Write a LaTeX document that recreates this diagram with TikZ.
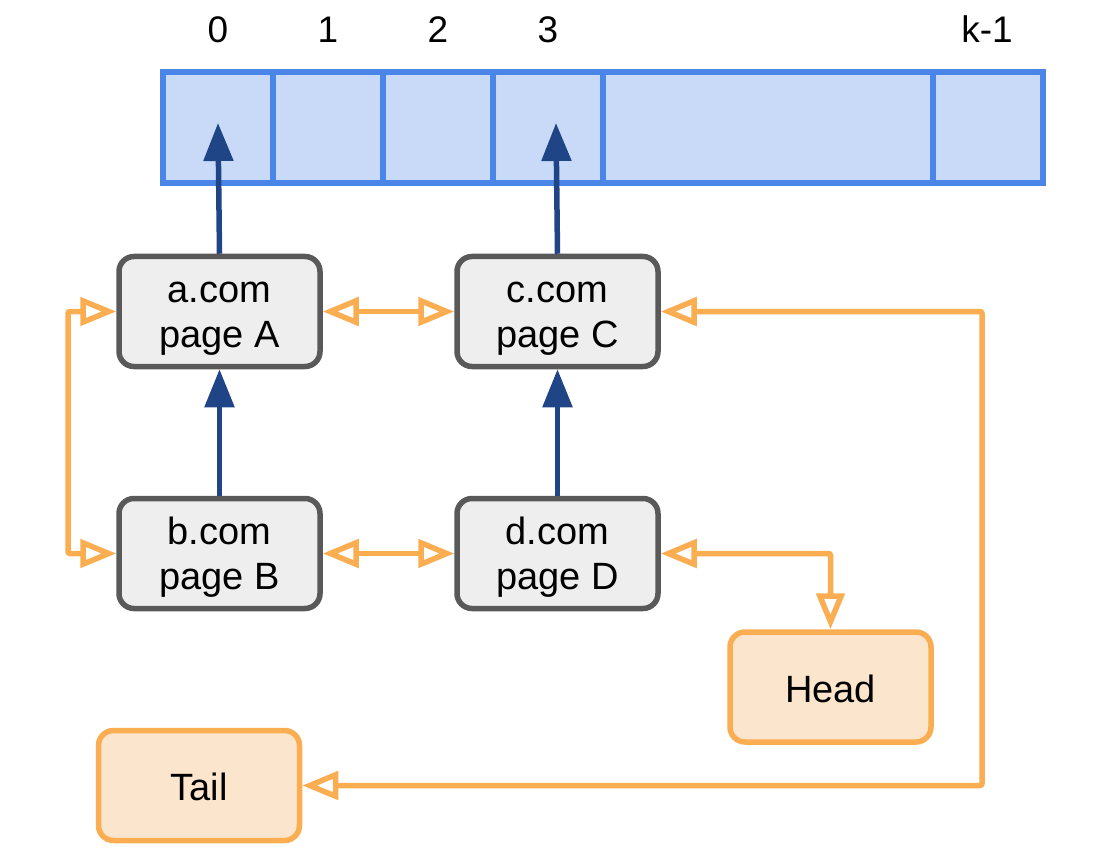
\documentclass[tikz,border=0pt]{standalone}
\usepackage{fontspec}
\setmainfont{Liberation Sans}
\usetikzlibrary{arrows.meta}
\definecolor{cellfill}{HTML}{C9DAF8}
\definecolor{cellline}{HTML}{4A86E8}
\definecolor{boxfill}{HTML}{EEEEEE}
\definecolor{boxline}{HTML}{595959}
\definecolor{navyblue}{HTML}{204586}
\definecolor{orangeline}{HTML}{FBAD52}
\definecolor{orangefill}{HTML}{FCE5CD}
\newcommand\mystrut{\rule[-4pt]{0pt}{38pt}}
\begin{document}
\begin{tikzpicture}[x=1pt,y=-1pt,
 pagebox/.style={draw=boxline, fill=boxfill, line width=5.5pt, rounded corners=15pt,
   minimum width=201pt, minimum height=110pt, inner sep=0pt, align=center,
   font=\fontsize{38}{45}\selectfont},
 endbox/.style={pagebox, draw=orangeline, fill=orangefill},
 cell/.style={draw=cellline, fill=cellfill, line width=5.5pt, minimum height=111pt,
   inner sep=0pt},
 idx/.style={anchor=base, font=\fontsize{37}{45}\selectfont, inner sep=0pt},
 ptr/.style={draw=navyblue, line width=5.5pt, -{Triangle[length=38pt,width=29pt]}},
 link/.style={draw=orangeline, line width=5.5pt, rounded corners=2pt,
   {Triangle[open,length=36pt,width=28pt,fill=white]}-{Triangle[open,length=36pt,width=28pt,fill=white]}},
]
\useasboundingbox (0,0) rectangle (1101,861);

% array cells
\node[cell, minimum width=110pt] (cell0) at (218,127.5) {};
\node[cell, minimum width=110pt] (cell1) at (328,127.5) {};
\node[cell, minimum width=110pt] (cell2) at (438,127.5) {};
\node[cell, minimum width=110pt] (cell3) at (548,127.5) {};
\node[cell, minimum width=330pt] (cell4) at (768,127.5) {};
\node[cell, minimum width=110pt] (cell5) at (988,127.5) {};

% index labels
\node[idx] (l0) at (218,43) {0};
\node[idx] (l1) at (328,43) {1};
\node[idx] (l2) at (438,43) {2};
\node[idx] (l3) at (548,43) {3};
\node[idx] (l5) at (987,43) {k-1};

% page nodes
\node[pagebox] (a) at (219.5,311.5) {\mystrut a.com\\\mystrut page A};
\node[pagebox] (b) at (219.5,553.5) {\mystrut b.com\\\mystrut page B};
\node[pagebox] (c) at (557.5,311.5) {\mystrut c.com\\\mystrut page C};
\node[pagebox] (d) at (557.5,553.5) {\mystrut d.com\\\mystrut page D};
\node[endbox] (head) at (830.5,687) {\mystrut Head};
\node[endbox] (tail) at (199,785.5) {\mystrut Tail};

% pointer targets
\coordinate (t0) at (218,123);
\coordinate (t3) at (556,123);
\coordinate (L) at (68,0);
\coordinate (R) at (982,0);

% navy arrows
\draw[ptr] (a.north) -- (t0);
\draw[ptr] (c.north) -- (t3);
\draw[ptr] (b.north) -- (a.south);
\draw[ptr] (d.north) -- (c.south);

% orange links
\draw[link] (a.east) -- (c.west);
\draw[link] (b.east) -- (d.west);
\draw[link] (a.west) -- (a.west -| L) -- (b.west -| L) -- (b.west);
\draw[link] (d.east) -| (head.north);
\draw[link] (c.east) -- (c.east -| R) -- (tail.east -| R) -- (tail.east);
\end{tikzpicture}
\end{document}
